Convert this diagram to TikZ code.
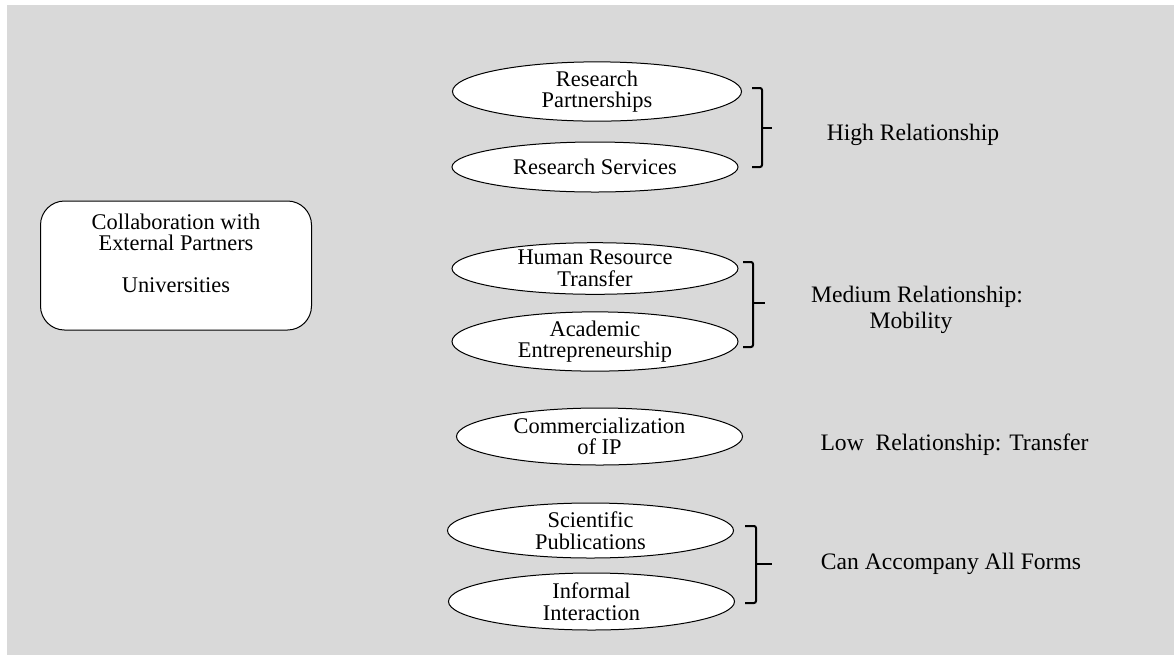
\documentclass[tikz,border=0pt]{standalone}
\usepackage{fontspec}
\setmainfont{Liberation Serif}
\usetikzlibrary{shapes.geometric,positioning}
\definecolor{bggray}{RGB}{217,217,217}

\begin{document}
\begin{tikzpicture}[
    x=0.5pt, y=-0.5pt,
    oval/.style={draw, ellipse, fill=white, inner sep=0pt, minimum width=143pt, minimum height=28pt, align=center, line width=0.5pt, font=\fontsize{11.2}{10.8}\selectfont},
    hub/.style={draw, fill=white, rounded corners=12pt, minimum width=135.5pt, minimum height=64.5pt, line width=0.5pt},
    hubtext/.style={align=center, font=\fontsize{11.2}{10.5}\selectfont},
    level/.style={align=center, font=\fontsize{11.8}{13}\selectfont},
    brk/.style={line width=1pt, rounded corners=1pt}
]
% Background
\useasboundingbox (0,0) rectangle (1174,655);
\fill[bggray] (7,5) rectangle (1174,655);
% Left box
\node[hub, label={[hubtext, yshift=6pt]center:Collaboration with\\External Partners\\[10.5pt]Universities}] (unis) at (176,265.5) {};
% Forms of collaboration
\node[oval, minimum width=144.5pt, minimum height=28.5pt] (rp) at (597,91.5) {Research\\Partnerships};
\node[oval, minimum height=25pt] (rs) at (595,167) {Research Services};
\node[oval, minimum height=25pt] (hr) at (595,268.5) {Human Resource\\Transfer};
\node[oval, minimum height=28.5pt] (ae) at (595,341.5) {Academic\\Entrepreneurship};
\node[oval, minimum height=28.5pt] (ip) at (599.5,436.5) {Commercialization\\of IP};
\node[oval, minimum height=27.5pt] (sp) at (590.5,530.5) {Scientific\\Publications};
\node[oval, minimum height=28.5pt] (ii) at (591.5,601.5) {Informal\\Interaction};
% Brackets
\draw[brk] (752,88) -| (762,167) -- (752,167);
\draw[brk] (762,128) -- (772,128);
\draw[brk] (743,262) -| (753,347) -- (743,347);
\draw[brk] (753,303) -- (765,303);
\draw[brk] (745,526) -| (756,603) -- (745,603);
\draw[brk] (756,564) -- (772,564);
% Relationship levels
\node[level] (high) at (913,135) {High Relationship};
\node[level] (medium) at (917,310) {Medium Relationship:\\Mobility\hspace*{6pt}};
\node[level] (low) at (954.5,445) {Low\ \ Relationship: Transfer};
\node[level] (all) at (951,564) {Can Accompany All Forms};
\end{tikzpicture}
\end{document}
